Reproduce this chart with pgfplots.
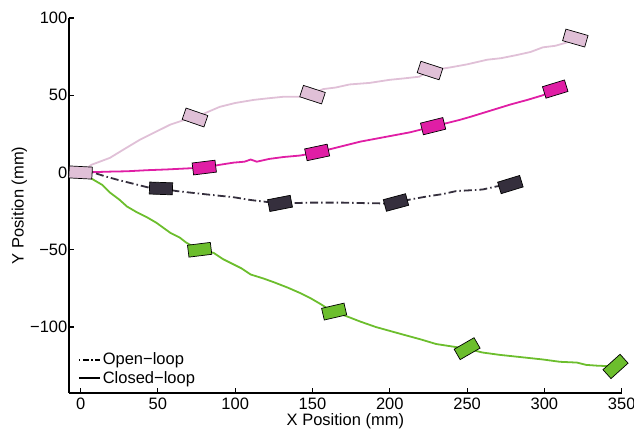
\documentclass[border=0pt]{standalone}
\usepackage{pgfplots}
\pgfplotsset{compat=1.18}
\usepackage{fontspec}
\setmainfont{Liberation Sans}
\definecolor{pinkL}{RGB}{224,192,215}
\definecolor{magen}{RGB}{224,30,165}
\definecolor{darkc}{RGB}{53,47,61}
\definecolor{greenc}{RGB}{108,190,45}
\pgfdeclareplotmark{robot}{%
  \pgfpathrectangle{\pgfpoint{-11.5bp}{-6bp}}{\pgfpoint{23bp}{12bp}}%
  \pgfusepathqfillstroke}
\pgfplotsset{
  robots/.style={scatter, only marks, mark=robot,
    scatter/use mapped color={draw=black, fill=#1},
    visualization depends on={\thisrow{a} \as \ang},
    scatter/@pre marker code/.append style={/tikz/rotate=\ang},
    mark options={line width=0.7bp}},
}
\begin{document}
\fontsize{16.5bp}{19bp}\selectfont
\begin{tikzpicture}
\begin{axis}[name=ax,
  scale only axis, width=552.7bp, height=374.7bp,
  xmin=-7.5, xmax=350, ymin=-142.5, ymax=100,
  clip=false,
  axis lines*=left, axis line style={-, line width=2bp},
  tick align=inside, major tick length=5bp,
  tick style={line width=1.2bp, black},
  xtick={0,50,...,350},
  ytick={-100,-50,0,50,100},
  yticklabels={−100,−50,0,50,100},
  /pgf/number format/assume math mode=true,
  tick label style={font=\fontsize{16.5bp}{19bp}\selectfont},
  label style={font=\fontsize{16.5bp}{19bp}\selectfont},
  yticklabel style={inner sep=1.5bp},
  xticklabel style={inner sep=5bp},
  xlabel={X Position (mm)}, ylabel={Y Position (mm)},
  xlabel style={at={(axis description cs:0.5,0)}, anchor=north, yshift=-21bp, inner sep=0bp},
  ylabel style={yshift=-4bp},
  legend style={at={(axis description cs:0,0)}, anchor=south west,
    draw=none, fill=none, xshift=9bp, yshift=5bp, inner sep=0bp,
    font=\fontsize{16.5bp}{19bp}\selectfont, row sep=0bp,
    nodes={inner sep=2bp}},
  legend cell align=left,
  legend image code/.code={\draw[#1] (0bp,0bp) -- (21bp,0bp);},
]
\addlegendimage{black, line width=1.6bp, dash pattern=on 1.5bp off 2.5bp on 6bp off 2.5bp}
\addlegendentry{Open−loop}
\addlegendimage{black, line width=1.6bp}
\addlegendentry{Closed−loop}
% paths
\addplot[pinkL, line width=1.8bp, forget plot] coordinates {
(0,0) (7,5) (19,9.5) (28,15) (38,21) (48,26) (58,31) (67,34) (75,36) (83,39.5) (90,42.5) (100,45) (112,47) (121,48) (131,49) (141,49) (150,51) (157,54) (165,55) (174,57) (187,58) (200,60) (210,61) (219,62) (226,66) (239,68) (250,70) (263,73) (272,74) (282,76) (291,78) (299,81) (307,82) (314,84) (320,87)};
\addplot[magen, line width=1.8bp, forget plot] coordinates {
(0,0) (10,0.3) (20,0.6) (30,0.8) (43,1.5) (56,2) (68,2.6) (80,3.2) (90,5) (99,6.4) (106,7) (110,8.4) (114,7) (122,8.8) (131,10) (142,11) (153,13) (161,15) (171,17.5) (181,20) (197,23) (213,26) (221,28) (228,30) (237,32) (245,34) (252,36) (265,40) (278,44) (289,47) (299,50) (307,54)};
\addplot[darkc, line width=1.8bp, dash pattern=on 8bp off 3bp on 1.5bp off 3bp, forget plot] coordinates {
(0,0) (8,0) (16,-2.5) (25,-5) (35,-7.5) (45,-10) (52,-10.3) (62,-12) (80,-14) (99,-16) (110,-17.8) (120,-19) (129,-20) (138,-19.8) (148,-19.5) (160,-19.5) (170,-19.5) (183,-19.8) (196,-20) (204,-19.4) (213,-17.5) (224,-15.5) (234,-14) (243,-12) (252,-11.5) (260,-11) (269,-9) (278,-7.8)};
\addplot[greenc, line width=1.8bp, forget plot] coordinates {
(0,0) (8,-4.5) (14,-8) (19,-13) (25,-17.5) (30,-22) (36,-25.5) (43,-29) (49,-32.5) (58,-39) (64,-42) (68.5,-45.5) (77,-50) (86,-52) (92,-56) (99,-59.5) (104,-62) (110,-66) (118,-68.5) (125,-71) (134,-74.5) (142,-78) (149,-81.5) (155,-85) (163,-90) (172,-93) (181,-96.5) (191,-100) (200,-102.5) (209,-105) (220,-108) (230,-111) (243,-113) (250,-114) (260,-116.5) (271,-118) (285,-119.5) (299,-121) (310,-122.5) (321,-123) (327,-124.5) (334,-125) (346,-125.5)};
% robots
\addplot[robots=greenc, forget plot] table {
x y a
77 -50 7
164 -90 13
250 -114 30
346 -125.5 42
};
\addplot[robots=darkc, forget plot] table {
x y a
52 -10.3 -2
129 -20 11
204 -19.4 15
278 -7.8 17
};
\addplot[robots=magen, forget plot] table {
x y a
80 3.2 7
153 13 12
228 30 14
307 54 17
};
\addplot[robots=pinkL, forget plot] table {
x y a
0 0 -3
74 35.6 -19
150 50.4 -18
226 66 -18
320 87 -16
};
\end{axis}
\pgfresetboundingbox
\path ([xshift=-69bp,yshift=-36.3bp]ax.south west) rectangle ([xshift=12.3bp,yshift=18bp]ax.north east);
\end{tikzpicture}
\end{document}
